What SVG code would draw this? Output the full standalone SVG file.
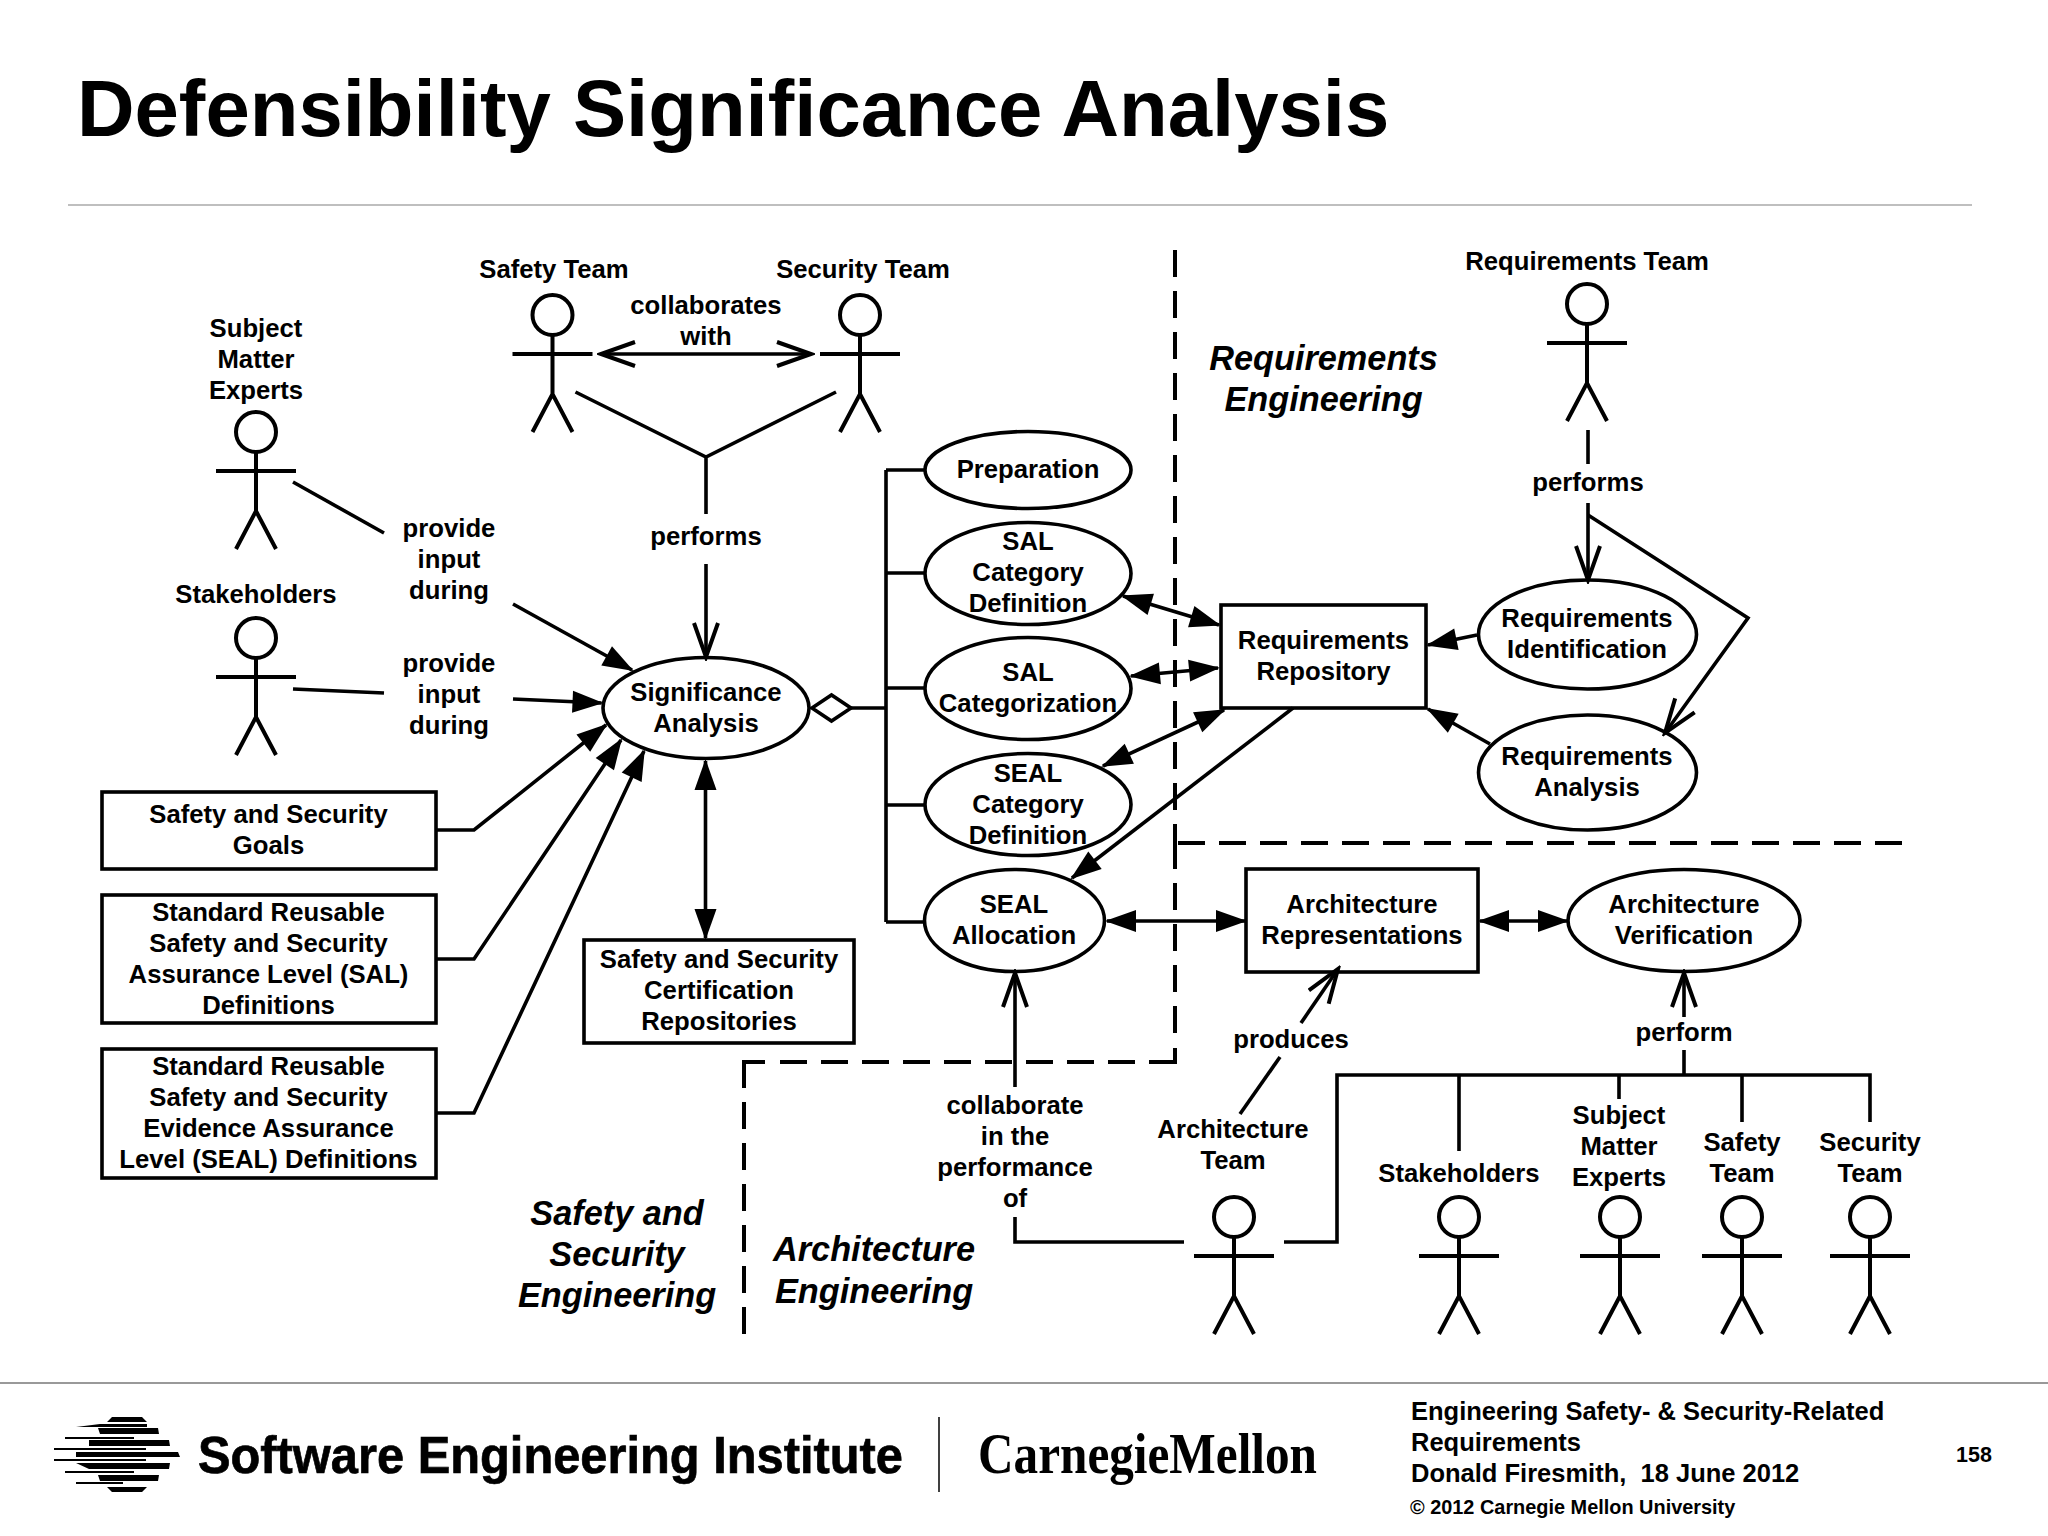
<svg xmlns="http://www.w3.org/2000/svg" width="2048" height="1536" viewBox="0 0 2048 1536">
<style>
text{font-family:"Liberation Sans",Arial,sans-serif;font-weight:bold;fill:#000}
.t{font-size:25.7px;text-anchor:middle}
.h{font-size:34.3px;font-style:italic;text-anchor:middle}
.s{fill:#fff;stroke:#000;stroke-width:3.6}
.c{fill:none;stroke:#000;stroke-width:3.6;stroke-linejoin:miter}
.d{fill:none;stroke:#000;stroke-width:4;stroke-dasharray:27 14}
.u{fill:none;stroke:#000;stroke-width:4}
.a{fill:none;stroke:#000;stroke-width:4}
.fa{marker-end:url(#filled)}
.fb{marker-start:url(#filled);marker-end:url(#filled)}
.oa{marker-end:url(#open)}
.ob{marker-start:url(#open);marker-end:url(#open)}
.f{font-size:25.5px;white-space:pre}
</style>
<defs>
<marker id="filled" viewBox="-32 -12 36 24" refX="0" refY="0" markerWidth="36" markerHeight="24" markerUnits="userSpaceOnUse" orient="auto-start-reverse"><path d="M-29,-11 L2,0 L-29,11Z" fill="#000"/></marker>
<marker id="open" viewBox="-36 -14 40 28" refX="0" refY="0" markerWidth="40" markerHeight="28" markerUnits="userSpaceOnUse" orient="auto-start-reverse"><path d="M-34,-12 L0,0 L-34,12" fill="none" stroke="#000" stroke-width="4"/></marker>
<g id="actor"><circle r="20" cy="0" cx="0" fill="#fff" stroke="#000" stroke-width="4"/><path class="a" d="M0,20V79M-40,39H40M-20,117L0,79L20,117"/></g>
</defs>
<rect width="2048" height="1536" fill="#fff"/>
<text id="title" x="77" y="136" style="font-size:79.7px">Defensibility Significance Analysis</text>
<path d="M68,205H1972" stroke="#aaa" stroke-width="1.5" fill="none"/>
<path d="M0,1383H2048" stroke="#999" stroke-width="2" fill="none"/>

<g id="boundaries">
<path class="d" d="M1175,250V843"/>
<path class="d" d="M1175,1033V843"/>
<path class="u" d="M1149,1062H1175V1048"/>
<path class="d" d="M780,1062H1149"/>
<path class="u" d="M744,1087V1062H765"/>
<path class="d" d="M744,1334V1087"/>
<path class="d" d="M1178,843H1906"/>
</g>
<text class="h" id="zone-req"><tspan x="1323.5" y="370">Requirements</tspan><tspan x="1323.5" y="411">Engineering</tspan></text>
<text class="h" id="zone-safety"><tspan x="617" y="1225">Safety and</tspan><tspan x="617" y="1266">Security</tspan><tspan x="617" y="1307">Engineering</tspan></text>
<text class="h" id="zone-arch"><tspan x="874" y="1261">Architecture</tspan><tspan x="874" y="1303">Engineering</tspan></text>

<g id="actor-sme"><text class="t"><tspan x="256" y="337">Subject</tspan><tspan x="256" y="368">Matter</tspan><tspan x="256" y="399">Experts</tspan></text><use href="#actor" x="256" y="432"/></g>
<g id="actor-stake"><text class="t" x="256" y="603">Stakeholders</text><use href="#actor" x="256" y="638"/></g>
<g id="actor-safety"><text class="t" x="554" y="278">Safety Team</text><use href="#actor" x="552.5" y="315"/></g>
<g id="actor-security"><text class="t" x="863" y="278">Security Team</text><use href="#actor" x="860" y="315"/></g>
<g id="actor-req"><text class="t" x="1587" y="270">Requirements Team</text><use href="#actor" x="1587" y="304"/></g>
<g id="actor-arch"><text class="t"><tspan x="1233" y="1138">Architecture</tspan><tspan x="1233" y="1169">Team</tspan></text><use href="#actor" x="1234" y="1217"/></g>
<g id="actor-stake2"><text class="t" x="1459" y="1182">Stakeholders</text><use href="#actor" x="1459" y="1217"/></g>
<g id="actor-sme2"><text class="t"><tspan x="1619" y="1124">Subject</tspan><tspan x="1619" y="1155">Matter</tspan><tspan x="1619" y="1186">Experts</tspan></text><use href="#actor" x="1620" y="1217"/></g>
<g id="actor-safety2"><text class="t"><tspan x="1742" y="1151">Safety</tspan><tspan x="1742" y="1182">Team</tspan></text><use href="#actor" x="1742" y="1217"/></g>
<g id="actor-security2"><text class="t"><tspan x="1870" y="1151">Security</tspan><tspan x="1870" y="1182">Team</tspan></text><use href="#actor" x="1870" y="1217"/></g>

<g id="sig"><ellipse class="s" cx="706" cy="708" rx="103" ry="50.5"/><text class="t"><tspan x="706" y="701">Significance</tspan><tspan x="706" y="732">Analysis</tspan></text></g>
<g id="prep"><ellipse class="s" cx="1028" cy="470" rx="103" ry="38.5"/><text class="t" x="1028" y="478">Preparation</text></g>
<g id="salcat"><ellipse class="s" cx="1028" cy="573.5" rx="103" ry="51"/><text class="t"><tspan x="1028" y="550">SAL</tspan><tspan x="1028" y="581">Category</tspan><tspan x="1028" y="612">Definition</tspan></text></g>
<g id="salz"><ellipse class="s" cx="1028" cy="688.5" rx="103" ry="51"/><text class="t"><tspan x="1028" y="681">SAL</tspan><tspan x="1028" y="712">Categorization</tspan></text></g>
<g id="sealcat"><ellipse class="s" cx="1028" cy="804.5" rx="103" ry="51"/><text class="t"><tspan x="1028" y="782">SEAL</tspan><tspan x="1028" y="813">Category</tspan><tspan x="1028" y="844">Definition</tspan></text></g>
<g id="sealalloc"><ellipse class="s" cx="1014.5" cy="920.5" rx="90" ry="51"/><text class="t"><tspan x="1014" y="913">SEAL</tspan><tspan x="1014" y="944">Allocation</tspan></text></g>
<g id="reqrepo"><rect class="s" x="1221" y="605" width="205" height="103"/><text class="t"><tspan x="1323.5" y="649">Requirements</tspan><tspan x="1323.5" y="680">Repository</tspan></text></g>
<g id="reqid"><ellipse class="s" cx="1587.5" cy="634.5" rx="109" ry="54.5"/><text class="t"><tspan x="1587" y="627">Requirements</tspan><tspan x="1587" y="658">Identification</tspan></text></g>
<g id="reqan"><ellipse class="s" cx="1587.5" cy="772.5" rx="109" ry="57.5"/><text class="t"><tspan x="1587" y="765">Requirements</tspan><tspan x="1587" y="796">Analysis</tspan></text></g>
<g id="archrep"><rect class="s" x="1246" y="869" width="232" height="103"/><text class="t"><tspan x="1362" y="913">Architecture</tspan><tspan x="1362" y="944">Representations</tspan></text></g>
<g id="archver"><ellipse class="s" cx="1684" cy="920.5" rx="116" ry="51"/><text class="t"><tspan x="1684" y="913">Architecture</tspan><tspan x="1684" y="944">Verification</tspan></text></g>
<g id="goals"><rect class="s" x="102" y="792" width="334" height="77"/><text class="t"><tspan x="268.5" y="823">Safety and Security</tspan><tspan x="268.5" y="854">Goals</tspan></text></g>
<g id="saldefs"><rect class="s" x="102" y="895" width="334" height="128"/><text class="t"><tspan x="268.5" y="921">Standard Reusable</tspan><tspan x="268.5" y="952">Safety and Security</tspan><tspan x="268.5" y="983">Assurance Level (SAL)</tspan><tspan x="268.5" y="1014">Definitions</tspan></text></g>
<g id="sealdefs"><rect class="s" x="102" y="1049" width="334" height="129"/><text class="t"><tspan x="268.5" y="1075">Standard Reusable</tspan><tspan x="268.5" y="1106">Safety and Security</tspan><tspan x="268.5" y="1137">Evidence Assurance</tspan><tspan x="268.5" y="1168">Level (SEAL) Definitions</tspan></text></g>
<g id="certrepo"><rect class="s" x="584" y="940" width="270" height="103"/><text class="t"><tspan x="719" y="968">Safety and Security</tspan><tspan x="719" y="999">Certification</tspan><tspan x="719" y="1030">Repositories</tspan></text></g>

<g id="connectors">
<path class="c" d="M851,708H886M886,470V922M886,470H925M886,573H925M886,688H925M886,805H925M886,922H925"/>
<path class="s" d="M812,708L831.5,695L851,708L831.5,721Z"/>
<path class="c fb" d="M1123,596L1219,625"/>
<path class="c fb" d="M1131,676L1218,668"/>
<path class="c fb" d="M1103,766L1224,710"/>
<path class="c fa" d="M1293,708L1072,878"/>
<path class="c fb" d="M1107,921H1245"/>
<path class="c fb" d="M1480,921H1567"/>
<path class="c fa" d="M1477,635L1428,645"/>
<path class="c fa" d="M1490,744L1428,709"/>
<path class="c" d="M1588,430V464"/>
<path class="c oa" d="M1588,503V580"/>
<path class="c oa" d="M1588,515L1748,618L1665,733"/>
<path class="c ob" d="M601,354H811"/>
<path class="c" d="M575.5,392L706,457L836,392M706,457V514"/>
<path class="c oa" d="M706,564V657"/>
<path class="c" d="M293,482L384,533"/>
<path class="c fa" d="M513,604L632,670"/>
<path class="c" d="M293,689L384,693"/>
<path class="c fa" d="M513,699L601.5,703"/>
<path class="c fa" d="M437,830H474L606,725"/>
<path class="c fa" d="M437,959H474L621,740"/>
<path class="c fa" d="M437,1113H474L644,751"/>
<path class="c fb" d="M705.5,761V938"/>
<path class="c oa" d="M1015,1087V973"/>
<path class="c" d="M1015,1217V1242H1184"/>
<path class="c oa" d="M1301,1023L1338,969"/>
<path class="c" d="M1280,1057L1240,1114"/>
<path class="c oa" d="M1684,1017V973"/>
<path class="c" d="M1684,1050V1075M1284,1242H1337V1075H1870V1122M1459,1075V1151M1619,1075V1099M1742,1075V1122"/>
<text class="t"><tspan x="706" y="314">collaborates</tspan><tspan x="706" y="345">with</tspan></text>
<text class="t" x="706" y="545">performs</text>
<text class="t" x="1588" y="491">performs</text>
<text class="t"><tspan x="449" y="537">provide</tspan><tspan x="449" y="568">input</tspan><tspan x="449" y="599">during</tspan></text>
<text class="t"><tspan x="449" y="672">provide</tspan><tspan x="449" y="703">input</tspan><tspan x="449" y="734">during</tspan></text>
<text class="t"><tspan x="1015" y="1114">collaborate</tspan><tspan x="1015" y="1145">in the</tspan><tspan x="1015" y="1176">performance</tspan><tspan x="1015" y="1207">of</tspan></text>
<text class="t" x="1291" y="1048">produces</text>
<text class="t" x="1684" y="1041">perform</text>
</g>

<g id="footer">
<path fill="#000" d="M112,1417H142L147,1422H107Z M100,1424H147V1427H76Z M98,1428H158L159,1434H100Z M65,1437H134V1439H65Z M89,1440H169L170,1446H89Z M54,1448H146V1450H54Z M76,1452H178L180,1457L178,1457H76Z M54,1459H146V1461H54Z M76,1463H170L169,1469H89Z M65,1471H134V1473H65Z M98,1475H159L158,1481H100Z M76,1482H123V1484H76Z M107,1487H147L142,1492H112Z"/>
<text x="198" y="1473" textLength="705" lengthAdjust="spacingAndGlyphs" style="font-size:52px;stroke:#000;stroke-width:0.7">Software Engineering Institute</text>
<path d="M939,1417V1492" stroke="#000" stroke-width="1.5" fill="none"/>
<text x="978" y="1473" textLength="339" lengthAdjust="spacingAndGlyphs" style="font-family:'Liberation Serif',serif;font-weight:bold;font-size:56px">CarnegieMellon</text>
<text class="f" x="1411" y="1420">Engineering Safety- &amp; Security-Related</text>
<text class="f" x="1411" y="1451">Requirements</text>
<text class="f" x="1411" y="1482">Donald Firesmith,  18 June 2012</text>
<text x="1410" y="1514" style="font-size:19.9px">© 2012 Carnegie Mellon University</text>
<text x="1974" y="1462" text-anchor="middle" style="font-size:21.5px">158</text>
</g>
</svg>
